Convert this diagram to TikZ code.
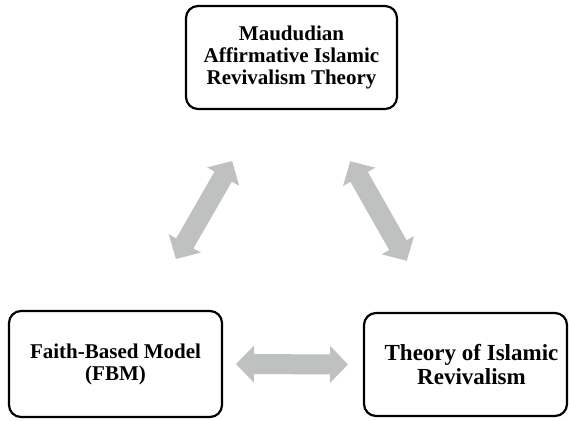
\documentclass[tikz,border=0pt]{standalone}
\usepackage{fontspec}
\setmainfont{Liberation Serif}
\usetikzlibrary{arrows.meta}
\definecolor{arrowgrey}{RGB}{191,193,193}
\tikzset{
  theorybox/.style={draw=black, line width=2.2pt, rounded corners=12pt,
    fill=white, align=center, inner sep=0pt, outer sep=0pt,
    font=\bfseries\fontsize{21}{22}\selectfont},
  blockarrow/.style={draw=arrowgrey, line width=20pt,
    {Triangle[width=36pt,length=18pt]}-{Triangle[width=36pt,length=18pt]}}
}
\begin{document}
\begin{tikzpicture}[x=1pt, y=-1pt]
  \useasboundingbox (0,0) rectangle (569,420);

  % the three theory boxes
  \node[theorybox, minimum width=211pt, minimum height=103pt] (maud) at (291.5,57.5)
    {Maududian\\Affirmative Islamic\\Revivalism Theory};
  \node[theorybox, minimum width=213pt, minimum height=106pt] (fbm) at (115.5,364)
    {Faith-Based Model\\(FBM)};
  \node[theorybox, minimum width=203pt, minimum height=103pt,
        font=\bfseries\fontsize{23}{24}\selectfont] (tir) at (465.5,364.5)
    {\hspace*{12pt}Theory of Islamic\\\hspace*{12pt}Revivalism};

  % two-way links between the theories
  \draw[blockarrow, shorten <=60pt, shorten >=60pt] (fbm) -- (maud);
  \draw[blockarrow, shorten <=60pt, shorten >=60pt] (maud) -- (tir);
  \draw[blockarrow, shorten <=14pt, shorten >=16pt] (fbm.east) -- (tir.west);
\end{tikzpicture}
\end{document}
